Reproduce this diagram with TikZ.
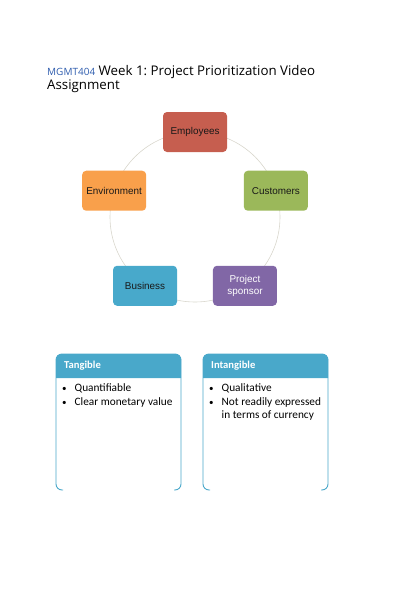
\documentclass[tikz,border=0pt]{standalone}
\usepackage{fontspec}
\usepackage{xcolor}
\usepackage{tikz}
\newfontfamily\titlefont{Open Sans}
\newfontfamily\cyclefont{Liberation Sans}
\newfontfamily\panelfont{Carlito}
\definecolor{mgblue}{HTML}{2F5DAE}
\definecolor{empred}{HTML}{C65E4F}
\definecolor{custgreen}{HTML}{9BB85A}
\definecolor{spongrape}{HTML}{8167A6}
\definecolor{busblue}{HTML}{48A9CB}
\definecolor{envorange}{HTML}{F9A04B}
\definecolor{hdrblue}{HTML}{49A8CA}
\definecolor{ringgray}{HTML}{D8D6CC}

\begin{document}
\begin{tikzpicture}[x=1pt, y=1pt,
  stake/.style={rectangle, rounded corners=4pt, minimum width=64pt, minimum height=40pt,
    inner sep=2pt, align=center, text=black!90,
    font=\cyclefont\fontsize{9.9}{11.5}\selectfont},
  titleline/.style={anchor=base west, inner sep=0pt, font=\titlefont\fontsize{13.3}{15}\selectfont},
  hdr/.style={fill=hdrblue},
  hdrtext/.style={anchor=west, inner sep=0pt, text=white,
    font=\panelfont\bfseries\fontsize{10.6}{12}\selectfont},
  panelline/.style={draw=hdrblue, line width=0.9pt, rounded corners=6pt},
  items/.style={anchor=north west, inner sep=0pt, align=left,
    font=\panelfont\fontsize{11.3}{13.5}\selectfont}]
  \useasboundingbox (0,0) rectangle (400,-600);

  % title
  \node[titleline] (title) at (47,-75)
    {{\fontsize{10}{15}\selectfont\color{mgblue}MGMT404} Week 1:\ Project Prioritization Video};
  \node[titleline] (title2) at (47,-89.5) {Assignment};

  % stakeholder ring
  \coordinate (ctr) at (195,-217);
  \draw[ringgray, line width=0.6pt] (ctr) circle (85pt);
  \begin{scope}[shift={(ctr)}]
    \node[stake, fill=empred] (emp) at (90:85) {Employees};
    \node[stake, fill=custgreen] (cust) at (18:85) {Customers};
    \node[stake, fill=spongrape, text=white] (spon) at (-54:85) {Project\\sponsor};
    \node[stake, fill=busblue] (bus) at (-126:85) {Business};
    \node[stake, fill=envorange] (env) at (162:85) {Environment};
  \end{scope}

  % tangible / intangible panels
  \foreach \x in {56, 203}{
    \fill[hdr] (\x,-378) [rounded corners=5pt] -- (\x,-354) -- (\x+125,-354)
      [sharp corners] -- (\x+125,-378) -- cycle;
    \draw[panelline] (\x+7,-490) -- (\x,-490) -- (\x,-354) -- (\x+125,-354)
      -- (\x+125,-490) -- (\x+118,-490);}
  \node[hdrtext] (tanghdr) at (64,-366) {Tangible};
  \node[hdrtext] (intanghdr) at (211,-366) {Intangible};
  \node[items] (tanglist) at (62,-382)
    {\begin{tabular}{@{}l@{\hspace{8pt}}l@{}}
      {\small•} & Quantifiable\\
      {\small•} & Clear monetary value
    \end{tabular}};
  \node[items] (intanglist) at (209,-382)
    {\begin{tabular}{@{}l@{\hspace{8pt}}l@{}}
      {\small•} & Qualitative\\
      {\small•} & Not readily expressed\\
        & in terms of currency
    \end{tabular}};
\end{tikzpicture}
\end{document}
